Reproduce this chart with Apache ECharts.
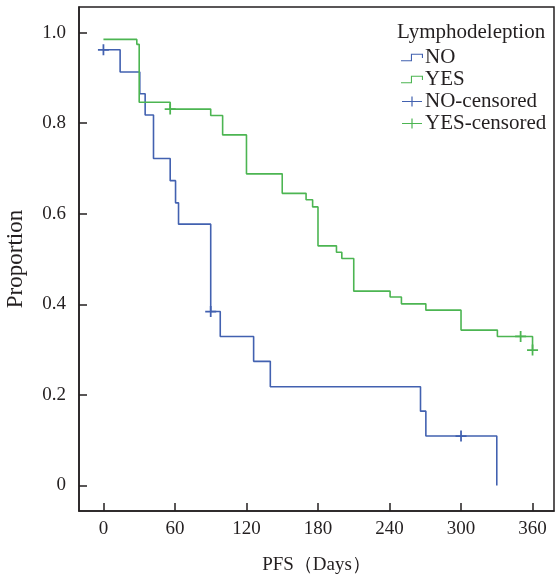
<!DOCTYPE html>
<html>
<head>
<meta charset="utf-8">
<script src="https://cdn.jsdelivr.net/npm/echarts@6/dist/echarts.min.js"></script>
<style>
  html, body { margin: 0; padding: 0; background: #fff; }
  #main { width: 556px; height: 580px; }
</style>
</head>
<body>
<div id="main"></div>
<script>
// KM steps: [day, survival after the event]
var noSteps = [[0, 0.962], [14, 0.913], [30.5, 0.865], [35, 0.818], [42, 0.722], [56, 0.673],
    [60.5, 0.624], [63, 0.577], [90, 0.384], [98, 0.329], [126, 0.274], [140, 0.218],
    [266, 0.164], [270.5, 0.109], [330, 0]];
var yesSteps = [[0, 0.985], [28, 0.974], [30, 0.846], [56, 0.831], [90, 0.817], [100, 0.774],
    [120, 0.688], [150, 0.645], [170, 0.631], [175.5, 0.615], [180, 0.529], [195.5, 0.515],
    [200, 0.501], [210, 0.429], [240.5, 0.416], [250, 0.401], [270.5, 0.387], [300, 0.343],
    [330.5, 0.329], [360, 0.299]];
var noCensored = [[0, 0.962], [90, 0.384], [300, 0.109]];
var yesCensored = [[56, 0.831], [350, 0.329], [360, 0.299]];

var xTicks = [0, 60, 120, 180, 240, 300, 360];
var yTicks = [0, 0.2, 0.4, 0.6, 0.8, 1.0];

var BLUE = '#4261b0', GREEN = '#4cb552', INK = '#231f20';
var FONT = '"Liberation Serif", "DejaVu Serif", serif';

var stepIcon = 'path://M0,8H9V2H20V6H19V3H10V9H0Z';
var plusIcon = 'path://M0,4.4H20V5.6H0Z M9.4,0H10.6V10H9.4Z';
var plusMark = 'path://M0,4.2H10V5.8H0Z M4.2,0H5.8V10H4.2Z';

var chart = echarts.init(document.getElementById('main'));

var option = {
    animation: false,
    backgroundColor: '#fff',
    title: {
        text: 'Lymphodeleption',
        left: 392, top: 17,
        textStyle: { fontFamily: FONT, fontSize: 21, fontWeight: 'normal', color: INK }
    },
    legend: {
        orient: 'vertical',
        left: 396, top: 42,
        itemWidth: 22, itemHeight: 10, itemGap: 1,
        textStyle: { fontFamily: FONT, fontSize: 21, color: INK, lineHeight: 21, padding: [0, 0, 0, -3] },
        data: [
            { name: 'NO', icon: stepIcon, itemStyle: { color: BLUE } },
            { name: 'YES', icon: stepIcon, itemStyle: { color: GREEN } },
            { name: 'NO-censored', icon: plusIcon, itemStyle: { color: BLUE } },
            { name: 'YES-censored', icon: plusIcon, itemStyle: { color: GREEN } }
        ]
    },
    grid: {
        left: 79, right: 2, top: 7, bottom: 69,
        containLabel: false, outerBoundsMode: 'none',
        show: true, borderColor: INK, borderWidth: 1.5, backgroundColor: 'transparent'
    },
    xAxis: {
        type: 'value', min: -20.5, max: 378,
        name: 'PFS（Days）', nameLocation: 'middle', nameGap: 45,
        nameTextStyle: { fontFamily: FONT, fontSize: 19, color: INK },
        axisLine: { show: true, onZero: false, lineStyle: { color: INK, width: 1.5 } },
        axisTick: { show: true, inside: true, length: 8, customValues: xTicks, lineStyle: { color: INK, width: 1.5 } },
        axisLabel: { customValues: xTicks, margin: 9, fontFamily: FONT, fontSize: 19, color: INK },
        splitLine: { show: false }
    },
    yAxis: {
        type: 'value', min: -0.0565, max: 1.0565,
        name: 'Proportion', nameLocation: 'middle', nameGap: 52, nameRotate: 90,
        nameTextStyle: { fontFamily: FONT, fontSize: 23, color: INK },
        axisLine: { show: true, onZero: false, lineStyle: { color: INK, width: 1.5 } },
        axisTick: { show: true, inside: true, length: 8, customValues: yTicks, lineStyle: { color: INK, width: 1.5 } },
        axisLabel: {
            customValues: yTicks, margin: 13, fontFamily: FONT, fontSize: 19, color: INK,
            formatter: function (v) { return v === 0 ? '0' : v.toFixed(1); }
        },
        splitLine: { show: false }
    },
    series: [
        {
            name: 'NO', type: 'line', step: 'end', data: noSteps,
            showSymbol: false, symbol: 'none',
            lineStyle: { color: BLUE, width: 1.6 }, itemStyle: { color: BLUE }
        },
        {
            name: 'YES', type: 'line', step: 'end', data: yesSteps,
            showSymbol: false, symbol: 'none',
            lineStyle: { color: GREEN, width: 1.6 }, itemStyle: { color: GREEN }
        },
        {
            name: 'NO-censored', type: 'scatter', data: noCensored,
            symbol: plusMark, symbolSize: 11, itemStyle: { color: BLUE, opacity: 1 }
        },
        {
            name: 'YES-censored', type: 'scatter', data: yesCensored,
            symbol: plusMark, symbolSize: 11, itemStyle: { color: GREEN, opacity: 1 }
        }
    ]
};

chart.setOption(option);
</script>
</body>
</html>
